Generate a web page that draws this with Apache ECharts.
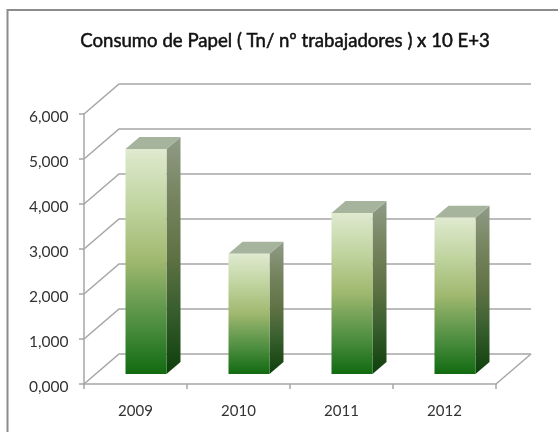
<!DOCTYPE html>
<html>
<head>
<meta charset="utf-8">
<style>html,body{margin:0;padding:0;background:#fff}#c{width:558px;height:432px}</style>
<script src="https://cdn.jsdelivr.net/npm/echarts@6/dist/echarts.min.js"></script>
</head>
<body>
<div id="c"></div>
<script>
var titleText = 'Consumo de Papel ( Tn/ nº trabajadores ) x 10 E+3';
var categories = ['2009', '2010', '2011', '2012'];
var values = [5.0, 2.67, 3.58, 3.47];
var yTicks = [0, 1, 2, 3, 4, 5, 6];

var depthX = 35, depthY = 30, barDx = 10.5, barDy = 10, barW = 41, barDepthX = 14, barDepthY = 12;
var gridColor = '#a6a6a6';
var fontName = 'Lato';

function vGrad(stops) {
  return new echarts.graphic.LinearGradient(0, 0, 0, 1, stops.map(function (s) {
    return { offset: s[0], color: s[1] };
  }));
}

var chart = echarts.init(document.getElementById('c'), null, { renderer: 'canvas' });
chart.setOption({
  animation: false,
  backgroundColor: '#ffffff',
  title: {
    text: titleText, left: 280, top: 26, textAlign: 'center',
    textStyle: { fontFamily: fontName, fontSize: 18.6, fontWeight: 'normal', color: '#111111', textBorderColor: '#111111', textBorderWidth: 0.5 }
  },
  graphic: [{
    type: 'polyline', silent: true,
    shape: { points: [[7.5, 432], [7.5, 10], [558, 10]] },
    style: { fill: null, stroke: '#8c8c8c', lineWidth: 2 }
  }],
  grid: { left: 84, right: 62, top: 114, bottom: 48 },
  xAxis: {
    type: 'category', data: categories,
    axisLine: { lineStyle: { color: gridColor, width: 1.5 } },
    axisTick: { show: true, alignWithLabel: false, length: 5, lineStyle: { color: gridColor, width: 1.5 } },
    axisLabel: { fontFamily: fontName, fontSize: 15, color: '#333333', margin: 20 }
  },
  yAxis: {
    type: 'value', min: 0, max: 6, interval: 1,
    axisLine: { show: true, lineStyle: { color: gridColor, width: 1.5 } },
    axisTick: { show: true, length: 5, lineStyle: { color: gridColor, width: 1.5 } },
    splitLine: { show: false },
    axisLabel: {
      fontFamily: fontName, fontSize: 15.5, color: '#333333', margin: 15.5,
      verticalAlign: 'top', lineHeight: 5,
      formatter: function (v) { return v.toFixed(3).replace('.', ','); }
    }
  },
  series: [{
    type: 'custom', silent: true, z: 1,
    data: yTicks,
    encode: { y: 0 },
    coordinateSystem: 'cartesian2d',
    renderItem: function (params, api) {
      var y = api.coord([0, api.value(0)])[1];
      var cs = params.coordSys;
      var x0 = cs.x, x1 = cs.x + cs.width;
      var kids = [{
        type: 'polyline',
        shape: { points: [[x0, y], [x0 + depthX, y - depthY], [x1 + depthX, y - depthY]] },
        style: { fill: null, stroke: gridColor, lineWidth: 1.5 }
      }];
      if (api.value(0) === 0) {
        kids.push({
          type: 'line',
          shape: { x1: x1, y1: y, x2: x1 + depthX, y2: y - depthY },
          style: { stroke: gridColor, lineWidth: 1.5 }
        });
      }
      return { type: 'group', children: kids };
    }
  }, {
    type: 'custom', silent: true, z: 3,
    data: values.map(function (v, i) { return [i, v]; }),
    encode: { x: 0, y: 1 },
    renderItem: function (params, api) {
      var top = api.coord([api.value(0), api.value(1)]);
      var base = api.coord([api.value(0), 0]);
      var l = top[0] + barDx - barW / 2, r = l + barW;
      var t = top[1] - barDy, b = base[1] - barDy;
      var dx = barDepthX, dy = barDepthY;
      return {
        type: 'group',
        children: [{
          type: 'polygon',
          shape: { points: [[r, t], [r + dx, t - dy], [r + dx, b - dy], [r, b]] },
          style: {
            fill: vGrad([[0, '#909c87'], [0.25, '#76845f'], [0.5, '#5f7244'], [0.72, '#3a5f2f'], [1, '#0d3f0b']])
          }
        }, {
          type: 'polygon',
          shape: { points: [[l, t], [l + dx, t - dy], [r + dx, t - dy], [r, t]] },
          style: { fill: '#a7b49d' }
        }, {
          type: 'rect',
          shape: { x: l, y: t, width: barW, height: b - t },
          style: {
            fill: vGrad([[0, '#dfeacf'], [0.25, '#c0d4a0'], [0.5, '#9fb86e'], [0.62, '#7aa55b'], [0.8, '#488b3c'], [1, '#116a10']])
          }
        }]
      };
    }
  }]
});
</script>
</body>
</html>
